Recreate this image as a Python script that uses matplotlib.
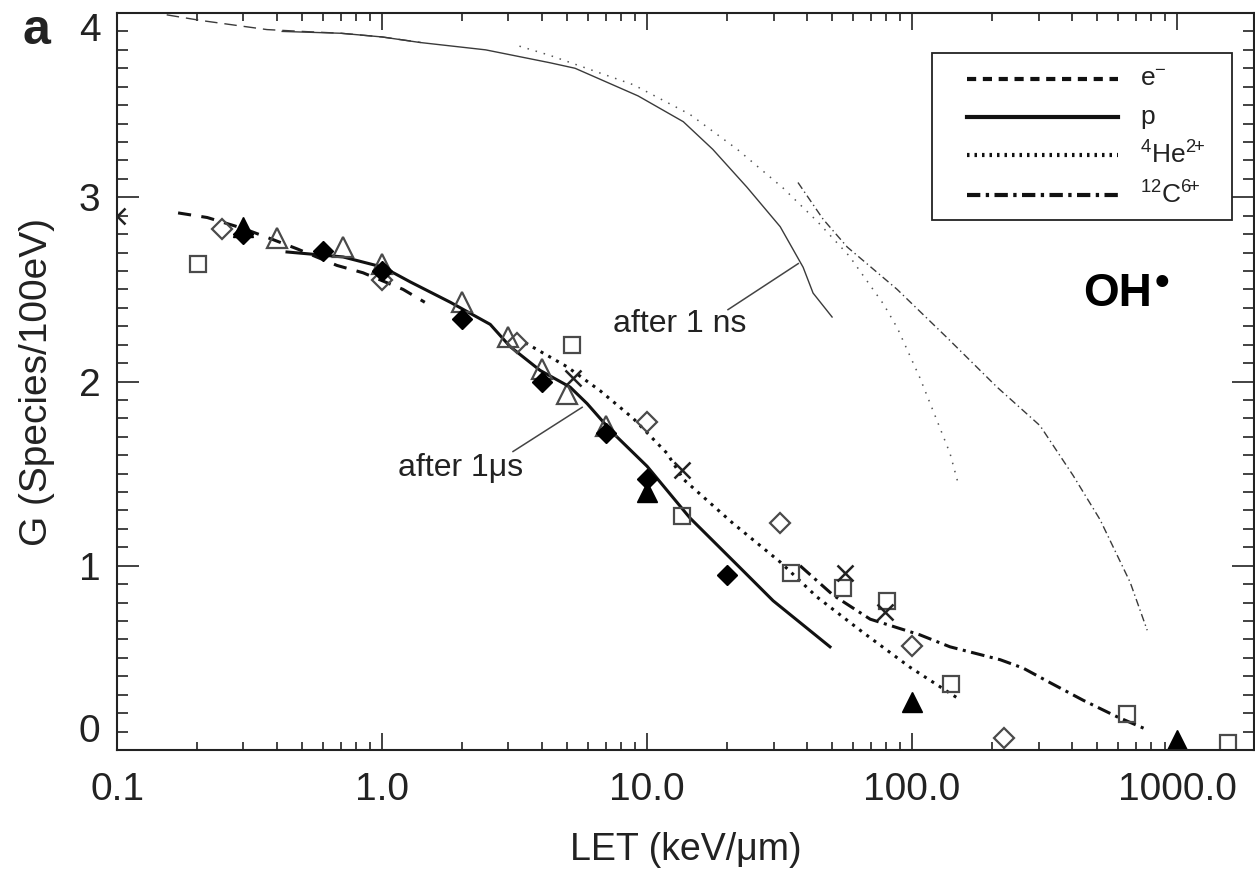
import matplotlib
matplotlib.use("Agg")
import matplotlib.pyplot as plt
from matplotlib.ticker import FixedLocator, MultipleLocator, LogLocator, NullFormatter
from matplotlib.lines import Line2D
from matplotlib.patches import Rectangle

plt.rcParams['font.family'] = ['Liberation Sans', 'DejaVu Sans']
plt.rcParams['mathtext.fontset'] = 'custom'
plt.rcParams['mathtext.rm'] = 'Liberation Sans'
plt.rcParams['mathtext.it'] = 'Liberation Sans:italic'

# ---- curves "after 1 ns" (thin) ----
e_ns_x = [0.154, 0.206, 0.275, 0.368, 0.5, 0.7, 1.0, 1.4]
e_ns_y = [3.99, 3.96, 3.935, 3.91, 3.90, 3.89, 3.87, 3.84]
p_ns_x = [0.42, 0.7, 1.0, 1.39, 2.46, 4.3, 5.35, 9.25, 13.7, 17.7, 23.8, 31.8, 38.8, 42.3, 49.9]
p_ns_y = [3.90, 3.89, 3.87, 3.84, 3.80, 3.73, 3.70, 3.55, 3.41, 3.26, 3.055, 2.84, 2.62, 2.48, 2.35]
he_ns_x = [3.3, 4.3, 8.9, 14.5, 21.9, 32.6, 43.8, 58, 65, 78, 88, 107, 124, 139, 149]
he_ns_y = [3.82, 3.77, 3.61, 3.45, 3.26, 3.05, 2.87, 2.68, 2.58, 2.42, 2.29, 2.02, 1.79, 1.61, 1.45]
c_ns_x = [37.1, 46.2, 56.9, 87.8, 135, 209, 304, 405, 512, 665, 771]
c_ns_y = [3.08, 2.88, 2.73, 2.50, 2.24, 1.97, 1.76, 1.49, 1.25, 0.91, 0.65]

# ---- curves "after 1 us" (thick) ----
e_us_x = [0.170, 0.219, 0.30, 0.388, 0.478, 0.676, 0.848, 1.20, 1.45]
e_us_y = [2.915, 2.89, 2.83, 2.77, 2.72, 2.63, 2.59, 2.50, 2.43]
p_us_x = [0.438, 0.713, 1.01, 1.28, 1.81, 2.28, 2.56, 3.04, 3.95, 5.12, 5.94, 7.44, 10.0, 14.5, 22.4, 29.9, 49.0]
p_us_y = [2.703, 2.676, 2.62, 2.54, 2.43, 2.35, 2.31, 2.19, 2.06, 1.97, 1.88, 1.72, 1.54, 1.26, 0.99, 0.81, 0.56]
he_us_x = [3.47, 4.99, 6.65, 8.86, 11.9, 13.7, 21.1, 31.8, 43.8, 65, 98, 149]
he_us_y = [2.21, 2.08, 1.95, 1.80, 1.61, 1.47, 1.23, 1.02, 0.83, 0.64, 0.45, 0.28]
c_us_x = [37.8, 50.4, 69.5, 107, 139, 215, 262, 332, 442, 594, 771]
c_us_y = [1.00, 0.84, 0.71, 0.625, 0.56, 0.49, 0.445, 0.365, 0.27, 0.18, 0.11]

# ---- experimental points ----
sq_x = [0.202, 5.2, 13.6, 34.9, 55, 80.5, 140, 647, 1556]
sq_y = [2.64, 2.20, 1.27, 0.96, 0.88, 0.81, 0.36, 0.195, 0.04]
od_x = [0.249, 1.0, 3.23, 10.0, 31.8, 100, 222]
od_y = [2.83, 2.55, 2.21, 1.78, 1.23, 0.565, 0.065]
ot_x = [0.40, 0.71, 1.0, 2.0, 3.0, 4.0, 5.0, 7.0]
ot_y = [2.78, 2.73, 2.64, 2.43, 2.24, 2.07, 1.93, 1.76]
fd_x = [0.3, 0.6, 1.0, 2.0, 4.0, 7.0, 10.0, 20.0]
fd_y = [2.80, 2.71, 2.60, 2.34, 2.00, 1.72, 1.47, 0.95]
ft_x = [0.3, 10.0, 100, 1000]
ft_y = [2.84, 1.40, 0.26, 0.054]
xm_x = [0.1, 5.25, 13.6, 55.8, 79]
xm_y = [2.90, 2.02, 1.52, 0.96, 0.75]

xtick_vals = [0.1, 1, 10, 100, 1000]
xtick_labels = ["0.1", "1.0", "10.0", "100.0", "1000.0"]
legend_labels = ["e$^{-}$", "p", "$^{4}$He$^{2\\!\\!+}$", "$^{12}$C$^{6\\!\\!+}$"]

W, H = 1255, 876
fig = plt.figure(figsize=(W / 100, H / 100), dpi=100)
ax = fig.add_axes([117 / W, 126 / H, 1137 / W, 737 / H])
ax.set_xscale('log')

thin = dict(color='#3a3a3a', lw=1.0)
ls_e_thin = (0, (9, 5))
ls_he_thin = (0, (1, 4.5))
ls_c_thin = (0, (5.5, 2.5, 1, 2.5))
ax.plot(e_ns_x, e_ns_y, linestyle=ls_e_thin, **thin)
ax.plot(p_ns_x, p_ns_y, linestyle='-', **thin)
ax.plot(he_ns_x, he_ns_y, linestyle=ls_he_thin, color='#555555', lw=1.1)
ax.plot(c_ns_x, c_ns_y, linestyle=ls_c_thin, **thin)

thick = dict(color='#111111', lw=2.2)
ls_e = (0, (4.3, 3.4))
ls_he = (0, (1, 1.9))
ls_c = (0, (4.5, 1.8, 1, 1.8))
ax.plot(e_us_x, e_us_y, linestyle=ls_e, **thick)
ax.plot(p_us_x, p_us_y, linestyle='-', **thick)
ax.plot(he_us_x, he_us_y, linestyle=ls_he, **thick)
ax.plot(c_us_x, c_us_y, linestyle=ls_c, **thick)

gray = '#4a4a4a'
ax.plot(sq_x, sq_y, 's', ms=11, mfc='none', mec=gray, mew=1.6)
ax.plot(od_x, od_y, 'D', ms=10.5, mfc='none', mec=gray, mew=1.6)
ax.plot(ot_x, ot_y, '^', ms=14, mfc='none', mec=gray, mew=1.6)
ax.plot(fd_x, fd_y, 'D', ms=10, mfc='black', mec='black', mew=1)
ax.plot(ft_x, ft_y, '^', ms=14, mfc='black', mec='black', mew=1)
ax.plot(xm_x, xm_y, 'x', ms=12, mec='#222222', mew=1.8)

# annotation pointers
ax.plot([20.2, 37.2], [2.39, 2.64], color='#444444', lw=1.1)
ax.plot([3.12, 5.69], [1.62, 1.86], color='#444444', lw=1.1)
ax.text(13.3, 2.31, "after 1 ns", fontsize=23, ha='center', va='center', color='#222222')
ax.text(1.97, 1.53, "after 1\u03bcs", fontsize=23, ha='center', va='center', color='#222222')

ax.set_xlim(0.1, 1950)
ax.set_ylim(0, 4)
ax.xaxis.set_major_locator(FixedLocator(xtick_vals))
ax.set_xticklabels(xtick_labels)
ax.xaxis.set_minor_locator(LogLocator(base=10, subs=range(2, 10), numticks=20))
ax.xaxis.set_minor_formatter(NullFormatter())
ax.yaxis.set_major_locator(FixedLocator([0, 1, 2, 3, 4]))
ax.set_yticklabels(["0", "1", "2", "3", "4"])
ax.yaxis.set_minor_locator(MultipleLocator(0.1))

ax.tick_params(which='both', direction='in', top=True, right=True, color='#222222', width=1.2,
               labelsize=28, labelcolor='#222222')
ax.tick_params(axis='x', which='major', length=12, pad=16)
ax.tick_params(axis='x', which='minor', length=6)
ax.tick_params(axis='y', which='major', length=15.5, pad=12)
ax.tick_params(axis='y', which='minor', length=8)
ylabs = ax.get_yticklabels()
ylabs[0].set_va('bottom')
ylabs[-1].set_va('top')
for s in ax.spines.values():
    s.set_linewidth(1.5)
    s.set_color('#222222')

ax.set_xlabel("LET (keV/\u03bcm)", fontsize=27, color='#222222', va='center')
ax.xaxis.set_label_coords(0.5, (750 - 850) / 737)
ax.set_ylabel("G (Species/100eV)", fontsize=28, color='#222222', va='center')
ax.yaxis.set_label_coords((37 - 117) / 1137, 0.5)

# legend box drawn in pixel-derived axes fractions
def axfrac(px, py):
    return (px - 117) / 1137, (750 - py) / 737

x0, y0 = axfrac(932, 220)
x1, y1 = axfrac(1232, 53)
ax.add_patch(Rectangle((x0, y0), x1 - x0, y1 - y0, transform=ax.transAxes, fill=False,
                       lw=1.3, edgecolor='#222222', clip_on=False))
leg_styles = [(0, (2.2, 1.6)), '-', (0, (0.6, 1.2)), (0, (3.2, 1.3, 0.8, 1.3))]
leg_rows = [79, 117, 155, 195]
for sty, row, lab in zip(leg_styles, leg_rows, legend_labels):
    lx0, ly = axfrac(967, row)
    lx1, _ = axfrac(1118, row)
    ax.add_line(Line2D([lx0, lx1], [ly, ly], transform=ax.transAxes, color='#111111', lw=3,
                       linestyle=sty, clip_on=False))
    tx, _ = axfrac(1140, row)
    ax.text(tx, ly, lab, transform=ax.transAxes, fontsize=19, ha='left', va='center',
            color='#222222')

fig.text(1083 / W, 1 - 294 / H, "OH", fontsize=33, fontweight='bold', ha='left', va='center')
fig.text(1162 / W, 1 - 284 / H, "\u2022", fontsize=30, fontweight='bold', ha='center', va='center')
fig.text(36 / W, 1 - 31 / H, "a", fontsize=36, fontweight='bold', ha='center', va='center',
         color='#222222')

fig.savefig("out.png", dpi=100)
